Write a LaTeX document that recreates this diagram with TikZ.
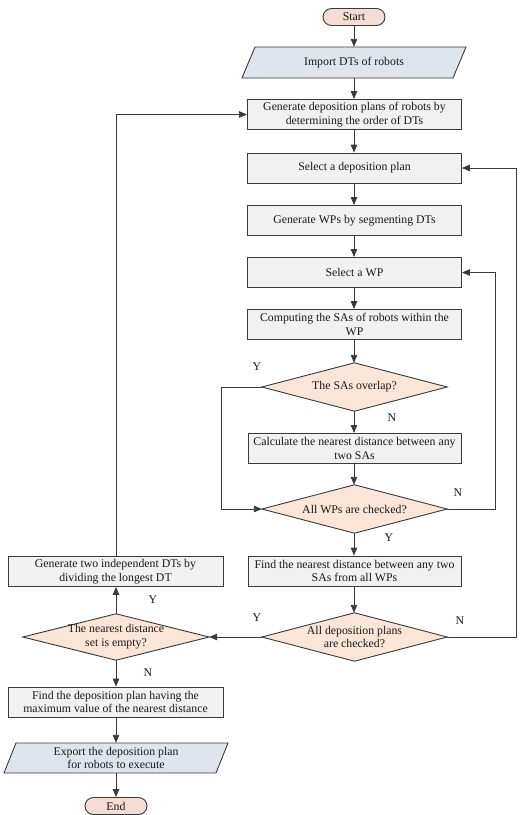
\documentclass[tikz,border=0pt]{standalone}
\usepackage{fontspec}
\setmainfont{Liberation Serif}
\usetikzlibrary{arrows.meta,backgrounds}
\definecolor{boxfill}{HTML}{F1F1F1}
\definecolor{parafill}{HTML}{DFE5EF}
\definecolor{diafill}{HTML}{FBE5D6}
\definecolor{termfill}{HTML}{F6DDD3}
\definecolor{linec}{HTML}{3A3A3A}
\tikzset{
  txt/.style={font=\fontsize{11.8}{13.8}\selectfont, text=black!90, align=center, inner sep=0pt},
  base/.style={txt, draw=linec, line width=0.9pt},
  procbox/.style={base, rectangle, fill=boxfill, minimum width=214pt, minimum height=30pt},
  decis/.style={txt, rectangle, minimum width=185pt, minimum height=48pt},
  term/.style={base, rectangle, rounded corners=8.5pt, fill=termfill, minimum width=62pt, minimum height=17pt},
  iotext/.style={txt, minimum height=31pt},
  para/.style={draw=linec, line width=0.9pt, fill=parafill},
  diaframe/.style={draw=linec, line width=0.9pt, fill=diafill},
  arr/.style={draw=linec, line width=0.9pt, -{Triangle[length=8pt,width=6.5pt]}},
  lbl/.style={txt}
}
\begin{document}
\begin{tikzpicture}[x=1pt,y=-1pt]
\useasboundingbox (0,0) rectangle (529,815);
% input/output parallelograms
\draw[para] (242,78) -- (255,47) -- (466,47) -- (453,78) -- cycle;
\draw[para] (4,773) -- (16,743) -- (228,743) -- (216,773) -- cycle;

\node[term] (start) at (354,17) {Start};
\node[iotext] (imp) at (354,62.5) {Import DTs of robots};
\node[procbox] (gen) at (354.5,114.5) {Generate deposition plans of robots by\\determining the order of DTs};
\node[procbox] (selplan) at (354.5,168) {Select a deposition plan};
\node[procbox] (genwp) at (354.5,220.5) {Generate WPs by segmenting DTs};
\node[procbox] (selwp) at (354.5,272.5) {Select a WP};
\node[procbox] (comp) at (354.5,324.5) {Computing the SAs of robots within the\\WP};
\node[decis] (overlap) at (354.5,387) {The SAs overlap?};
\node[procbox, minimum width=213pt] (calc) at (354.5,448.5) {Calculate the nearest distance between any\\two SAs};
\node[decis] (allwp) at (354.5,509) {All WPs are checked?};
\node[procbox, minimum width=213pt] (findsa) at (354.5,571) {Find the nearest distance between any two\\SAs from all WPs};
\node[decis] (allplan) at (354.5,637) {All deposition plans\\are checked?};
\node[decis, minimum width=186pt, minimum height=46pt] (empty) at (116,637) {The nearest distance\\set is empty?};
\node[procbox, minimum width=215pt] (gentwo) at (115.5,571.5) {Generate two independent DTs by\\dividing the longest DT};
\node[procbox, minimum width=215pt] (findplan) at (115.5,702) {Find the deposition plan having the\\maximum value of the nearest distance};
\node[iotext, minimum height=30pt] (export) at (116,758) {Export the deposition plan\\for robots to execute};
\node[term] (end) at (116,806) {End};

\begin{scope}[on background layer]
\foreach \d in {overlap,allwp,allplan,empty}
  \draw[diaframe] (\d.west) -- (\d.north) -- (\d.east) -- (\d.south) -- cycle;
\end{scope}

\coordinate (lx) at (221,0);
\coordinate (rx1) at (495,0);
\coordinate (rx2) at (516,0);

\draw[arr] (start.south) -- (imp.north);
\draw[arr] (imp.south) -- (gen.north -| imp.south);
\draw[arr] (gen.south -| start.south) -- (selplan.north -| start.south);
\draw[arr] (selplan.south -| start.south) -- (genwp.north -| start.south);
\draw[arr] (genwp.south -| start.south) -- (selwp.north -| start.south);
\draw[arr] (selwp.south -| start.south) -- (comp.north -| start.south);
\draw[arr] (comp.south -| start.south) -- (overlap.north -| start.south);
\draw[arr] (overlap.south -| start.south) -- (calc.north -| start.south);
\draw[arr] (calc.south -| start.south) -- (allwp.north -| start.south);
\draw[arr] (overlap.west) -- (overlap.west -| lx) |- (allwp.west);
\draw[arr] (allwp.east) -- (allwp.east -| rx1) |- (selwp.east);
\draw[arr] (allwp.south -| start.south) -- (findsa.north -| start.south);
\draw[arr] (findsa.south -| start.south) -- (allplan.north -| start.south);
\draw[arr] (allplan.east) -- (allplan.east -| rx2) |- (selplan.east);
\draw[arr] (allplan.west) -- (empty.east);
\draw[arr] (empty.north) -- (gentwo.south -| empty.north);
\draw[arr] (gentwo.north -| empty.north) |- (gen.west);
\draw[arr] (empty.south) -- (findplan.north -| empty.south);
\draw[arr] (findplan.south -| empty.south) -- (export.north);
\draw[arr] (export.south) -- (end.north);

\node[lbl] (y1) at (257,367) {Y};
\node[lbl] (n1) at (392,418) {N};
\node[lbl] (n2) at (458,493) {N};
\node[lbl] (y2) at (389,538) {Y};
\node[lbl] (y3) at (257,618) {Y};
\node[lbl] (n3) at (460,621) {N};
\node[lbl] (y4) at (153,600) {Y};
\node[lbl] (n4) at (148,673) {N};
\end{tikzpicture}
\end{document}
